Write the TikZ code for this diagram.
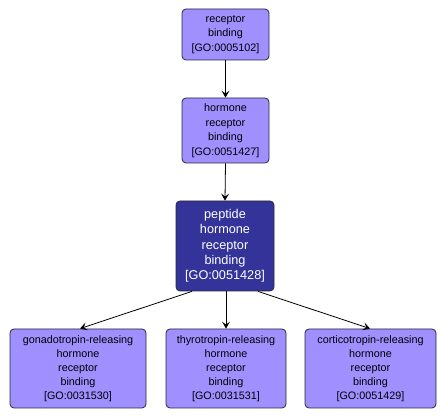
\documentclass[tikz,border=0pt]{standalone}
\usepackage{fontspec}
\setmainfont{Liberation Sans}
\usetikzlibrary{arrows.meta}
\definecolor{lightgo}{RGB}{159,143,255}
\definecolor{darkgo}{RGB}{51,51,153}
\definecolor{edgego}{RGB}{40,40,60}
\tikzset{
  goterm/.style={draw=edgego, line width=0.8pt, rounded corners=4pt, fill=lightgo,
    inner sep=0pt, align=center, font=\fontsize{10.8}{14.5}\selectfont},
  goterm small/.style={goterm, font=\fontsize{10.8}{14}\selectfont},
  goterm dark/.style={goterm, fill=darkgo, text=white, font=\fontsize{12.7}{15.3}\selectfont},
  goarrow/.style={draw=black, line width=0.8pt, -{Stealth[length=7pt,width=8pt,inset=3pt]}}
}
\begin{document}
\begin{tikzpicture}[x=1pt,y=-1pt]
\useasboundingbox (0,0) rectangle (448,419);
\fill[white] (0,0) rectangle (448,419);
\node[goterm, minimum width=87pt, minimum height=51pt] (n1) at (225.5,34.5) {receptor\\binding\\{[GO:0005102]}};
\node[goterm, minimum width=87pt, minimum height=65pt] (n2) at (225.5,130.5) {hormone\\receptor\\binding\\{[GO:0051427]}};
\node[goterm dark, minimum width=98pt, minimum height=90pt] (n3) at (225,246) {peptide\\hormone\\receptor\\binding\\{[GO:0051428]}};
\node[goterm small, minimum width=136pt, minimum height=79pt] (n4) at (78,368.5) {gonadotropin-releasing\\hormone\\receptor\\binding\\{[GO:0031530]}};
\node[goterm small, minimum width=120pt, minimum height=79pt] (n5) at (226,368.5) {thyrotropin-releasing\\hormone\\receptor\\binding\\{[GO:0031531]}};
\node[goterm small, minimum width=131pt, minimum height=79pt] (n6) at (370.5,368.5) {corticotropin-releasing\\hormone\\receptor\\binding\\{[GO:0051429]}};
\draw[goarrow] (n1.south) -- (n2.north);
\draw[goarrow] (n2.south) -- (n3.north);
\draw[goarrow] ([xshift=-33pt]n3.south) -- ([xshift=2pt]n4.north);
\draw[goarrow] ([xshift=1pt]n3.south) -- (n5.north);
\draw[goarrow] ([xshift=33pt]n3.south) -- ([xshift=-0.5pt]n6.north);
\end{tikzpicture}
\end{document}
